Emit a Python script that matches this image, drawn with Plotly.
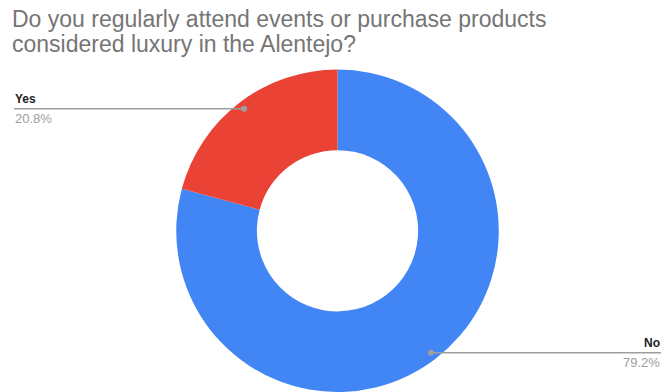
import math
import plotly.graph_objects as go

# Survey answers, in drawing order (clockwise from 12 o'clock)
answers = ["No", "Yes"]
shares = [79.2, 20.8]
colors = ["#4285F4", "#EA4335"]
title_lines = [
    "Do you regularly attend events or purchase products",
    "considered luxury in the Alentejo?",
]

W, H = 663, 392
FONT = "Liberation Sans, Arial, sans-serif"

# Donut placement in pixels
cx, cy = 337.5, 230.75
radius = 161.25
hole = 0.5

fig = go.Figure(
    go.Pie(
        labels=answers,
        values=shares,
        sort=False,
        direction="clockwise",
        rotation=0,
        hole=hole,
        marker=dict(colors=colors, line=dict(width=0)),
        textinfo="none",
        hoverinfo="label+percent",
        domain=dict(
            x=[(cx - radius) / W, (cx + radius) / W],
            y=[(H - (cy + radius)) / H, (H - (cy - radius)) / H],
        ),
        showlegend=False,
    )
)


def px_to_paper(x, y):
    return x / W, (H - y) / H


# Leader lines: a dot at each slice's mid-angle, a rule out to the label
total = sum(shares)
start = 0.0
shapes, annotations = [], []
label_rows = {"Yes": (14, "left"), "No": (661, "right")}
for name, val in zip(answers, shares):
    mid = (start + val / 2) / total * 2 * math.pi
    start += val
    r = radius * 0.953
    dx = cx + r * math.sin(mid)
    dy = cy - r * math.cos(mid)
    lx, side = label_rows[name]
    px0, py0 = px_to_paper(dx, dy)
    px1, _ = px_to_paper(lx, dy)
    shapes.append(dict(type="line", xref="paper", yref="paper",
                       x0=px0, y0=py0, x1=px1, y1=py0,
                       line=dict(color="#9E9E9E", width=1.5)))
    shapes.append(dict(type="circle", xref="paper", yref="paper",
                       x0=(dx - 3) / W, x1=(dx + 3) / W,
                       y0=(H - dy - 3) / H, y1=(H - dy + 3) / H,
                       fillcolor="#9E9E9E", line=dict(width=0)))
    annotations.append(dict(x=px1, y=(H - dy + 2) / H, xref="paper", yref="paper",
                            text=f"<b>{name}</b>", showarrow=False,
                            xanchor=side, yanchor="bottom", borderpad=0,
                            font=dict(family=FONT, size=12, color="#222222")))
    annotations.append(dict(x=px1, y=(H - dy - 1) / H, xref="paper", yref="paper",
                            text=f"{val:.1f}%", showarrow=False,
                            xanchor=side, yanchor="top", borderpad=0,
                            font=dict(family=FONT, size=13, color="#9E9E9E")))

# Two-line heading
for i, line in enumerate(title_lines):
    annotations.append(dict(x=11 / W, y=(H - 5 - 25 * i) / H, xref="paper", yref="paper",
                            text=line, showarrow=False, xanchor="left", yanchor="top",
                            borderpad=0,
                            font=dict(family=FONT, size=23, color="#757575")))

fig.update_layout(
    width=W, height=H,
    margin=dict(l=0, r=0, t=0, b=0),
    paper_bgcolor="white",
    plot_bgcolor="white",
    shapes=shapes,
    annotations=annotations,
)

fig.write_html("out.html")
